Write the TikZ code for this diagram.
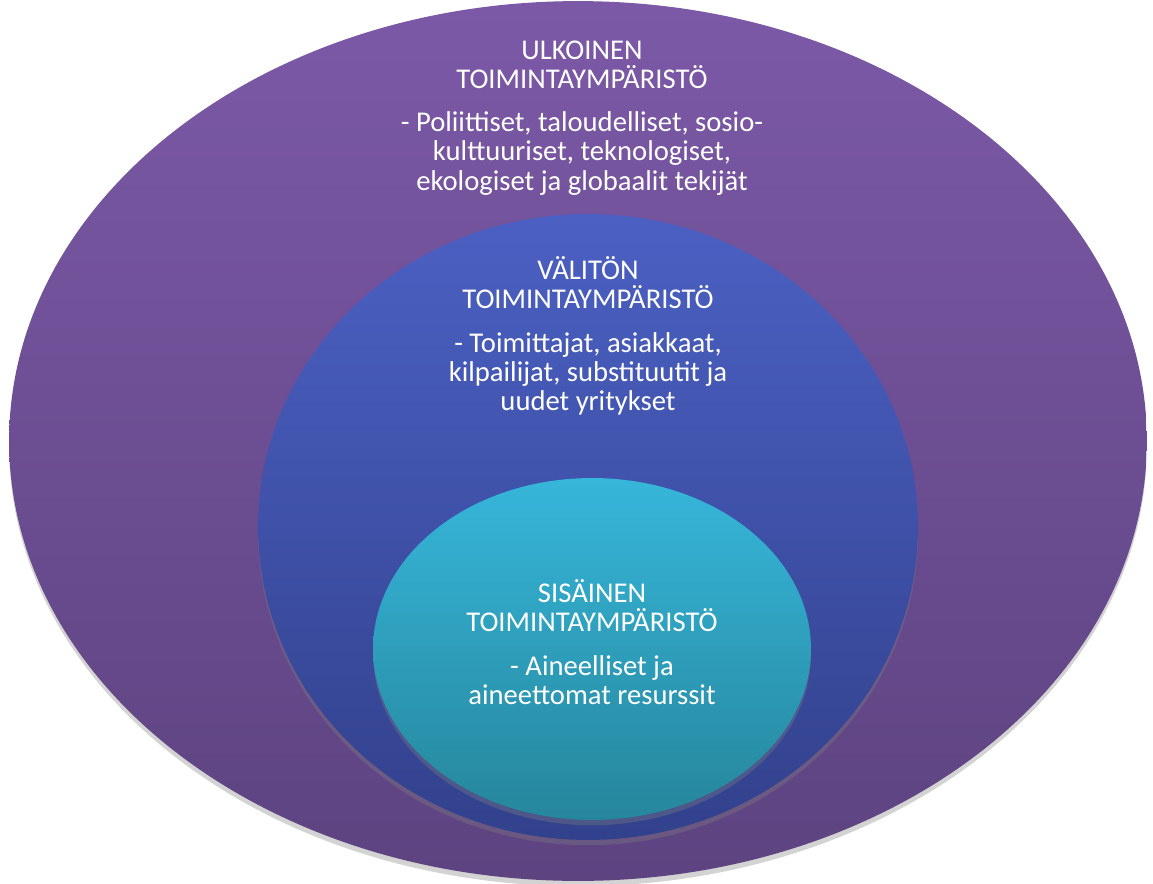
\documentclass[tikz,border=0pt]{standalone}
\usepackage{fontspec}
\setmainfont{Carlito}
\usetikzlibrary{shapes.geometric,positioning,shadows}

\definecolor{outertop}{HTML}{7C59A7}
\definecolor{outerbot}{HTML}{5D4380}
\definecolor{midtop}{HTML}{4B60C3}
\definecolor{midbot}{HTML}{32418C}
\definecolor{innertop}{HTML}{36B6DA}
\definecolor{innerbot}{HTML}{26869C}

\tikzset{
  ring/.style={ellipse, inner sep=0pt, drop shadow={opacity=.35, shadow xshift=0pt, shadow yshift=-3pt}},
  head/.style={text=white, align=center, font=\fontsize{16.3}{16.6}\selectfont},
  body/.style={text=white, align=center, font=\fontsize{16.3}{16.6}\selectfont}
}

\begin{document}
\begin{tikzpicture}[x=0.02cm, y=-0.02cm]
	\useasboundingbox (0,0) rectangle (1153,883);

	% rings
	\node[ring, top color=outertop, bottom color=outerbot, minimum width=22.76cm, minimum height=17.6cm] (outer) at (578,441) {};
	\node[ring, top color=midtop, bottom color=midbot, minimum width=13.2cm, minimum height=12.52cm] (mid) at (588,527) {};
	\node[ring, top color=innertop, bottom color=innerbot, minimum width=8.76cm, minimum height=6.84cm] (inner) at (592,649) {};

	% outer texts
	\node[head] (outerhead) at (582,65) {ULKOINEN\\TOIMINTAYMPÄRISTÖ};
	\node[body, below=6pt of outerhead] (outerbody) {- Poliittiset, taloudelliset, sosio-\\kulttuuriset, teknologiset,\\ekologiset ja globaalit tekijät};

	% middle texts
	\node[head] (midhead) at (588,283) {VÄLITÖN\\TOIMINTAYMPÄRISTÖ};
	\node[body, below=6pt of midhead] (midbody) {- Toimittajat, asiakkaat,\\kilpailijat, substituutit ja\\uudet yritykset};

	% inner texts
	\node[head] (innerhead) at (592,606) {SISÄINEN\\TOIMINTAYMPÄRISTÖ};
	\node[body, below=6pt of innerhead] (innerbody) {- Aineelliset ja\\aineettomat resurssit};
\end{tikzpicture}
\end{document}
